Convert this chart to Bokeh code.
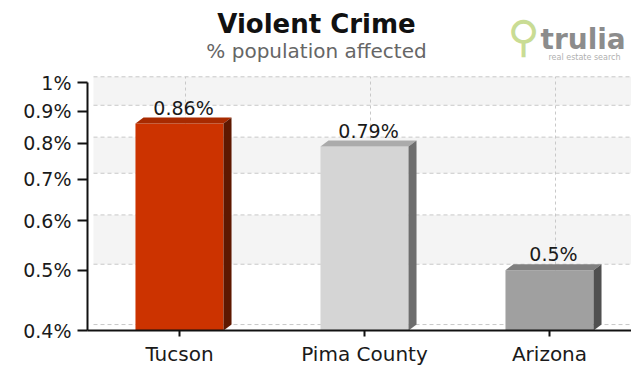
import math
from bokeh.plotting import figure
from bokeh.models import Range1d, FixedTicker
from bokeh.embed import file_html
from bokeh.resources import INLINE
from bokeh.core.properties import value

# ---- data ----
categories = ["Tucson", "Pima County", "Arizona"]
rates = [0.86, 0.79, 0.5]
value_labels = ["0.86%", "0.79%", "0.5%"]
y_ticks = [0.4, 0.5, 0.6, 0.7, 0.8, 0.9, 1.0]
y_tick_labels = ["0.4%", "0.5%", "0.6%", "0.7%", "0.8%", "0.9%", "1%"]
front_colors = ["#cc3300", "#d5d5d5", "#a0a0a0"]
top_colors = ["#a82a00", "#ababab", "#808080"]
side_colors = ["#5e1800", "#6e6e6e", "#505050"]

title_text = "Violent Crime"
subtitle_text = "% population affected"

# ---- layout constants (pixel positions within the picture) ----
W, H = 631, 368
AX_LEFT, AX_TOP, AX_BOTTOM = 87, 83, 333     # where 1% and 0.4% sit
FIRST_CENTER, PX_PER_CAT = 179.0, 185.0
Y_MIN, Y_MAX = 0.4, 1.0
PX_PER_LN = (AX_BOTTOM - AX_TOP) / math.log(Y_MAX / Y_MIN)


def xv(px):
    return (px - FIRST_CENTER) / PX_PER_CAT


def yv(py):
    return Y_MIN * math.exp((AX_BOTTOM - py) / PX_PER_LN)


X_MIN, X_MAX = xv(AX_LEFT), xv(W)
Y_TOP = yv(0)
BAR_W = 0.476
dx = 8 / PX_PER_CAT            # depth of the 3D effect
ky = math.exp(6 / PX_PER_LN)
gdx = 6 / PX_PER_CAT           # back-wall grid offset
gky = math.exp(6 / PX_PER_LN)

xs = list(range(len(categories)))

p = figure(width=W, height=H, output_backend="svg", toolbar_location=None,
           y_axis_type="log", x_range=Range1d(X_MIN, X_MAX),
           y_range=Range1d(Y_MIN, Y_TOP),
           min_border_left=AX_LEFT, min_border_top=0,
           min_border_bottom=H - AX_BOTTOM, min_border_right=0)
p.outline_line_color = None
p.background_fill_color = "white"
p.border_fill_color = "white"
p.xgrid.visible = False
p.ygrid.visible = False

# back-wall bands and dashed grid lines
band_b = [y_ticks[i] * gky for i in range(1, len(y_ticks) - 1, 2)]
band_t = [y_ticks[i + 1] * gky for i in range(1, len(y_ticks) - 1, 2)]
p.quad(left=X_MIN + gdx, right=X_MAX, bottom=band_b, top=band_t,
       fill_color="#f4f4f4", line_color=None)
p.segment(x0=X_MIN + gdx, x1=X_MAX, y0=[t * gky for t in y_ticks],
          y1=[t * gky for t in y_ticks], line_color="#c8c8c8", line_dash="4 3")
p.segment(x0=[x + gdx for x in xs], x1=[x + gdx for x in xs],
          y0=Y_MIN * gky, y1=Y_MAX * gky, line_color="#c8c8c8", line_dash="3 3")

# front faces
p.vbar(x=xs, top=rates, bottom=Y_MIN, width=BAR_W, fill_color=front_colors,
       line_color=None)

# top faces and side faces (3D effect)
top_xs, top_ys, side_xs, side_ys = [], [], [], []
for x, v in zip(xs, rates):
    l, r = x - BAR_W / 2, x + BAR_W / 2
    top_xs.append([l, r, r + dx, l + dx])
    top_ys.append([v, v, v * ky, v * ky])
    side_xs.append([r, r + dx, r + dx, r])
    side_ys.append([Y_MIN, Y_MIN * ky, v * ky, v])
p.patches(top_xs, top_ys, fill_color=top_colors, line_color=None)
p.patches(side_xs, side_ys, fill_color=side_colors, line_color=None)

# value labels
p.text(x=[x + dx / 2 for x in xs], y=[v * ky for v in rates], text=value_labels,
       text_align="center", text_baseline="bottom", y_offset=1,
       text_font=value("DejaVu Sans"), text_font_size="19px", text_color="#1a1a1a")

# axes
p.yaxis.ticker = FixedTicker(ticks=y_ticks)
p.yaxis.major_label_overrides = {t: lab for t, lab in zip(y_ticks, y_tick_labels)}
p.yaxis.bounds = (Y_MIN, Y_MAX)
p.xaxis.ticker = FixedTicker(ticks=xs)
p.xaxis.major_label_overrides = {i: c for i, c in zip(xs, categories)}

for ax in (p.xaxis[0], p.yaxis[0]):
    ax.axis_line_color = "#111111"
    ax.axis_line_width = 2
    ax.major_tick_line_color = "#111111"
    ax.major_tick_line_width = 2
    ax.major_tick_in = 0
    ax.minor_tick_line_color = None
    ax.major_label_text_font = "DejaVu Sans"
    ax.major_label_text_color = "#1a1a1a"
p.yaxis.major_label_text_font_size = "19px"
p.xaxis.major_label_text_font_size = "20px"
p.yaxis.major_tick_out = 10
p.yaxis.major_label_standoff = 6
p.xaxis.major_tick_out = 6
p.xaxis.major_label_standoff = 5

# titles
cx = xv(316)
p.text(x=[cx], y=[yv(23.5)], text=[title_text], text_align="center",
       text_baseline="middle", text_font=value("DejaVu Sans"),
       text_font_style="bold", text_font_size="26px", text_color="#111111")
p.text(x=[cx], y=[yv(51)], text=[subtitle_text], text_align="center",
       text_baseline="middle", text_font=value("DejaVu Sans"),
       text_font_size="20px", text_color="#666666")

# logo (approximation)
p.text(x=[xv(523)], y=[yv(36)], text=["\u26b2"], text_align="center",
       text_baseline="middle", text_font=value("DejaVu Sans"),
       text_font_size="44px", text_color="#c9dc94")
p.text(x=[xv(540)], y=[yv(39)], text=["trulia"], text_align="left",
       text_baseline="middle", text_font=value("DejaVu Sans"),
       text_font_style="bold", text_font_size="28px", text_color="#8c8c8c")
p.text(x=[xv(548)], y=[yv(58)], text=["real estate search"], text_align="left",
       text_baseline="middle", text_font=value("DejaVu Sans"),
       text_font_size="8px", text_color="#b0b0b0")

open("out.html", "w").write(file_html(p, INLINE))
